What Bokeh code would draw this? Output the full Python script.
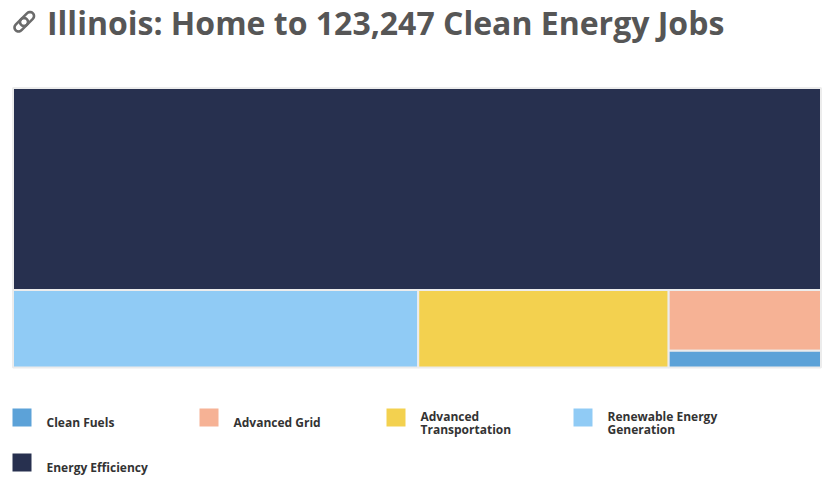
import math
from bokeh.plotting import figure
from bokeh.embed import file_html
from bokeh.resources import INLINE
from bokeh.core.properties import value

categories = ["Energy Efficiency", "Renewable Energy Generation", "Advanced Transportation", "Advanced Grid", "Clean Fuels"]
jobs = [89050, 17150, 10600, 5050, 1397]
colors = ["#27304f", "#90cbf5", "#f3d14f", "#f6b295", "#5ca2d8"]

legend_order = ["Clean Fuels", "Advanced Grid", "Advanced Transportation", "Renewable Energy Generation", "Energy Efficiency"]
legend_lines = {
    "Clean Fuels": ["Clean Fuels"],
    "Advanced Grid": ["Advanced Grid"],
    "Advanced Transportation": ["Advanced", "Transportation"],
    "Renewable Energy Generation": ["Renewable Energy", "Generation"],
    "Energy Efficiency": ["Energy Efficiency"],
}
title = "Illinois: Home to 123,247 Clean Energy Jobs"

W, H = 832, 486
p = figure(width=W, height=H, x_range=(0, W), y_range=(H, 0), output_backend="svg",
           toolbar_location=None, min_border=0, outline_line_color=None)
p.axis.visible = False
p.grid.visible = False
p.background_fill_color = "white"
p.border_fill_color = "white"

# slice-and-dice treemap layout computed from the values
L, T, R, B = 12.5, 87.5, 820.5, 367.0
total = sum(jobs)
ee, ren, tra, gri, fue = jobs
rest = ren + tra + gri + fue
split_y = T + (B - T) * ee / total
x1 = L + (R - L) * ren / rest
x2 = x1 + (R - L) * tra / rest
split_g = split_y + (B - split_y) * gri / (gri + fue)
p.quad(left=[L, L, x1, x2, x2], right=[R, x1, x2, R, R],
       top=[T, split_y, split_y, split_y, split_g],
       bottom=[split_y, B, B, split_g, B],
       fill_color=colors, line_color="#ececec", line_width=2)

# title and link icon
font = value("Open Sans")
p.text(x=[46.5], y=[22], text=[title], text_font=font, text_font_style="bold",
       text_font_size="32px", text_color="#565656", text_baseline="middle", text_align="left")

def stadium(x0, y0, x1_, y1_, r):
    a = math.atan2(y1_ - y0, x1_ - x0)
    xs, ys = [], []
    for k in range(13):
        t = a + math.pi / 2 + math.pi * k / 12
        xs.append(x0 + r * math.cos(t)); ys.append(y0 + r * math.sin(t))
    for k in range(13):
        t = a - math.pi / 2 + math.pi * k / 12
        xs.append(x1_ + r * math.cos(t)); ys.append(y1_ + r * math.sin(t))
    return xs, ys

s1 = stadium(18.0, 27.0, 23.5, 21.5, 4.0)
s2 = stadium(23.5, 21.5, 29.5, 15.5, 4.0)
p.patches([s1[0], s2[0]], [s1[1], s2[1]], fill_alpha=0, line_color="#6b6b6b", line_width=2.6)

# legend
slots = [(12, 408), (199, 408), (386, 408), (573, 408), (12, 453)]
for (sx, sy), name in zip(slots, legend_order):
    c = colors[categories.index(name)]
    p.quad(left=[sx], right=[sx + 19], top=[sy], bottom=[sy + 18], fill_color=c, line_color=None)
    lines = legend_lines[name]
    y0 = sy + 14 if len(lines) == 1 else sy + 8
    for i, t in enumerate(lines):
        p.text(x=[sx + 34], y=[y0 + i * 12.5], text=[t], text_font=font, text_font_style="bold",
               text_font_size="12px", text_color="#333333", text_baseline="middle", text_align="left")

open("out.html", "w").write(file_html(p, INLINE))
